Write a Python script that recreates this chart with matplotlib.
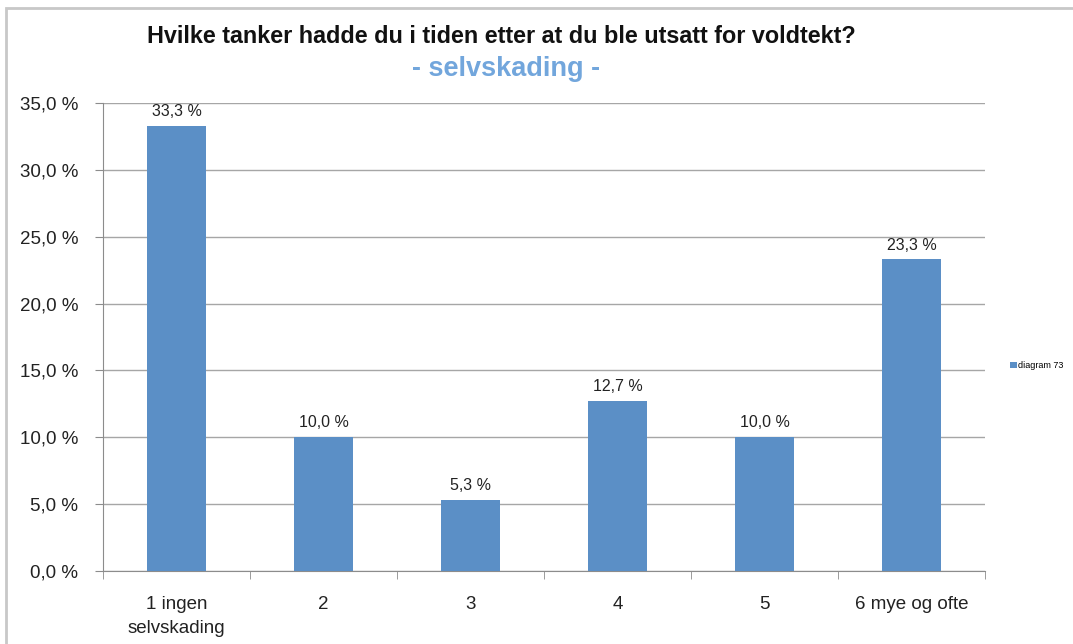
import matplotlib
matplotlib.use("Agg")
import matplotlib.pyplot as plt
from matplotlib.patches import Rectangle
import numpy as np

categories = ["1 ingen\nselvskading", "2", "3", "4", "5", "6 mye og ofte"]
values = [33.3, 10.0, 5.3, 12.7, 10.0, 23.3]
yticks = [0, 5, 10, 15, 20, 25, 30, 35]
title = "Hvilke tanker hadde du i tiden etter at du ble utsatt for voldtekt?"
subtitle = "- selvskading -"
legend_label = "diagram 73"

plt.rcParams['font.family'] = ['Liberation Sans', 'DejaVu Sans']

fig = plt.figure(figsize=(10.73, 6.44), dpi=100)
ax = fig.add_axes([0.096, 0.1134, 0.822, 0.7266])

x = np.arange(len(categories))
bar_color = "#5B8FC6"
bars = ax.bar(x, values, width=0.4, color=bar_color, zorder=3, label=legend_label)

ax.set_xlim(-0.5, len(categories) - 0.5)
ax.set_ylim(0, 35)
ax.set_yticks(yticks)
ax.set_yticklabels([f"{v:.1f}".replace(".", ",") + " %" for v in yticks], fontsize=13.5, color="#222222")
ax.yaxis.grid(True, color="#a6a6a6", linewidth=1, zorder=0)

ax.set_xticks(x)
ax.set_xticklabels(categories, fontsize=13.5, color="#222222", linespacing=1.55)
ax.set_xticks(np.arange(-0.5, len(categories), 1), minor=True)
ax.tick_params(axis='x', which='major', length=0, pad=18)
ax.tick_params(axis='x', which='minor', length=6, color="#8c8c8c", direction='out')
ax.tick_params(axis='y', length=6, color="#8c8c8c", direction='out', pad=12)

for s in ["top", "right"]:
    ax.spines[s].set_visible(False)
for s in ["left", "bottom"]:
    ax.spines[s].set_color("#8c8c8c")

for b, v in zip(bars, values):
    ax.annotate(f"{v:.1f}".replace(".", ",") + " %", (b.get_x() + b.get_width() / 2, v),
                xytext=(0, 5), textcoords="offset points", ha="center", va="bottom",
                fontsize=11.5, color="#222222")

fig.text(0.467, 0.943, title, ha="center", va="center", fontsize=16.8, fontweight="bold", color="#111111")
fig.text(0.4715, 0.893, subtitle, ha="center", va="center", fontsize=19.5, fontweight="bold", color="#72A6DC")

leg = fig.legend(handles=[bars], labels=[legend_label], loc="center left",
                 bbox_to_anchor=(0.934, 0.432), frameon=False, fontsize=6.5,
                 handlelength=0.7, handleheight=0.7, handletextpad=0.2)

fig.patches.append(Rectangle((0.006, -0.01), 1.5, 0.998, transform=fig.transFigure,
                             fill=False, edgecolor="#c8c8c8", linewidth=2))

fig.savefig("out.png", dpi=100)
